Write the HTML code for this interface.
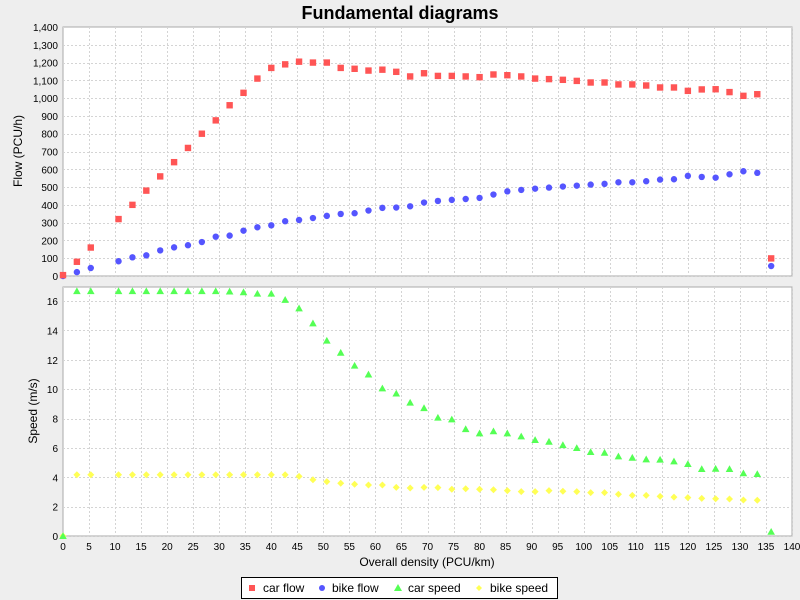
<!DOCTYPE html>
<html><head><meta charset="utf-8"><style>
body{margin:0;background:#eeeeee;}
svg{display:block;font-family:"Liberation Sans","DejaVu Sans",sans-serif;}
</style></head><body>
<svg id="chart" width="800" height="600" xmlns="http://www.w3.org/2000/svg">
<rect x="0" y="0" width="800" height="600" fill="#eeeeee"/>
<text x="400" y="19" text-anchor="middle" font-size="18" font-weight="bold">Fundamental diagrams</text>
<rect x="63" y="27" width="729" height="249" fill="#ffffff" stroke="#aaaaaa"/>
<rect x="63" y="287" width="729" height="249" fill="#ffffff" stroke="#aaaaaa"/>
<g id="grid"></g><g id="axes"></g><g id="marks"></g>
<text x="427" y="566" text-anchor="middle" font-size="12">Overall density (PCU/km)</text>
<text transform="translate(22,151) rotate(-90)" text-anchor="middle" font-size="12">Flow (PCU/h)</text>
<text transform="translate(37,411) rotate(-90)" text-anchor="middle" font-size="12">Speed (m/s)</text>
<g>
<rect x="241.5" y="577.5" width="316" height="21" fill="#ffffff" stroke="#000000"/>
<g><rect x="249" y="585" width="6" height="6" fill="#ff5555"/><text x="263" y="592" font-size="12">car flow</text></g>
<g><circle cx="322" cy="588" r="3" fill="#5555ff"/><text x="332" y="592" font-size="12">bike flow</text></g>
<g><polygon points="398,584 402,591 394,591" fill="#55ff55"/><text x="408" y="592" font-size="12">car speed</text></g>
<g><polygon points="479,585 482,588 479,591 476,588" fill="#ffff55"/><text x="490" y="592" font-size="12">bike speed</text></g>
</g>
</svg>
<script>
const densityIdx = [0,1,2,4,5,6,7,8,9,10,11,12,13,14,15,16,17,18,19,20,21,22,23,24,25,26,27,28,29,30,31,32,33,34,35,36,37,38,39,40,41,42,43,44,45,46,47,48,49,50,51];
const density = densityIdx.map(k => k*8/3);
const carFlow = [5,80,160,320,400,480,560,640,720,800,875,960,1030,1110,1170,1190,1205,1200,1200,1170,1165,1155,1160,1148,1122,1140,1125,1125,1122,1118,1133,1129,1122,1110,1107,1103,1097,1088,1088,1077,1077,1071,1060,1060,1041,1049,1050,1034,1013,1022,99];
const bikeFlow = [0,22,45,83,105,116,144,161,173,191,221,227,255,274,285,308,315,326,338,349,353,368,383,385,392,413,422,428,433,439,458,476,484,491,497,503,508,514,518,527,527,533,542,544,563,557,553,572,589,580,56];
const carSpeed = [0,16.67,16.67,16.67,16.67,16.67,16.67,16.67,16.67,16.67,16.67,16.65,16.6,16.5,16.5,16.08,15.5,14.48,13.3,12.48,11.6,11.0,10.05,9.7,9.08,8.71,8.06,7.94,7.28,6.99,7.13,6.99,6.78,6.54,6.42,6.19,5.99,5.72,5.67,5.42,5.33,5.22,5.2,5.08,4.9,4.56,4.58,4.56,4.27,4.22,0.29];
const bikeSpeed = [0,4.17,4.17,4.17,4.17,4.17,4.17,4.17,4.17,4.17,4.17,4.17,4.17,4.17,4.17,4.17,4.06,3.83,3.7,3.59,3.52,3.47,3.47,3.31,3.27,3.31,3.29,3.18,3.22,3.18,3.15,3.09,3.02,3.02,3.09,3.05,3.02,2.95,2.95,2.84,2.77,2.77,2.7,2.65,2.61,2.56,2.54,2.52,2.45,2.43,null];
const xTicks = [0,5,10,15,20,25,30,35,40,45,50,55,60,65,70,75,80,85,90,95,100,105,110,115,120,125,130,135,140];
const flowTicks = [0,100,200,300,400,500,600,700,800,900,1000,1100,1200,1300,1400];
const speedTicks = [0,2,4,6,8,10,12,14,16];

const NS="http://www.w3.org/2000/svg";
const X0=63,X1=792;
const xs = v => X0 + v/140*(X1-X0);
const yf = v => 276 - v/1400*249;
const ys = v => 536 - v/16*235;
function mk(tag, attrs, parent){const e=document.createElementNS(NS,tag);for(const k in attrs)e.setAttribute(k,attrs[k]);parent.appendChild(e);return e;}
const grid=document.getElementById('grid'), axes=document.getElementById('axes'), marks=document.getElementById('marks');
const gs={stroke:'#d4d4d4','stroke-width':1,'stroke-dasharray':'2,2'};
xTicks.forEach(t=>{
  const x=Math.round(xs(t))+0.5;
  [[27,276],[287,536]].forEach(([a,b])=>{const l=mk('line',Object.assign({x1:x,x2:x,y1:a,y2:b},gs),grid);
  
  });
  const tx=mk('text',{x:xs(t),y:550,'text-anchor':'middle','font-size':10},axes);tx.textContent=t;
  
  
});
flowTicks.forEach(t=>{
  const y=Math.round(yf(t))+0.5;
  const l=mk('line',Object.assign({x1:63,x2:792,y1:y,y2:y},gs),grid);
  
  
  const tx=mk('text',{x:58,y:yf(t)+4,'text-anchor':'end','font-size':10},axes);tx.textContent=t.toLocaleString('en-US');
  
  
});
speedTicks.forEach(t=>{
  const y=Math.round(ys(t))+0.5;
  const l=mk('line',Object.assign({x1:63,x2:792,y1:y,y2:y},gs),grid);
  
  
  const tx=mk('text',{x:58,y:ys(t)+4,'text-anchor':'end','font-size':10},axes);tx.textContent=t;
  
  
});
density.forEach((d,i)=>{
  const x=xs(d);
  if(bikeFlow[i]!=null){const c=mk('circle',{cx:x,cy:yf(bikeFlow[i]),r:3.2,fill:'#5555ff'},marks);
  
  }
  if(carFlow[i]!=null){const y=yf(carFlow[i]);const r=mk('rect',{x:x-3.2,y:y-3.2,width:6.4,height:6.4,fill:'#ff5555'},marks);
  
  }
  if(bikeSpeed[i]!=null){const y=ys(bikeSpeed[i]);const p=mk('polygon',{points:`${x},${y-3.5} ${x+3.5},${y} ${x},${y+3.5} ${x-3.5},${y}`,fill:'#ffff55'},marks);
  
  }
  if(carSpeed[i]!=null){const y=ys(carSpeed[i]);const p=mk('polygon',{points:`${x},${y-3.8} ${x+3.8},${y+3} ${x-3.8},${y+3}`,fill:'#55ff55'},marks);
  
  }
});
</script>
</body></html>
